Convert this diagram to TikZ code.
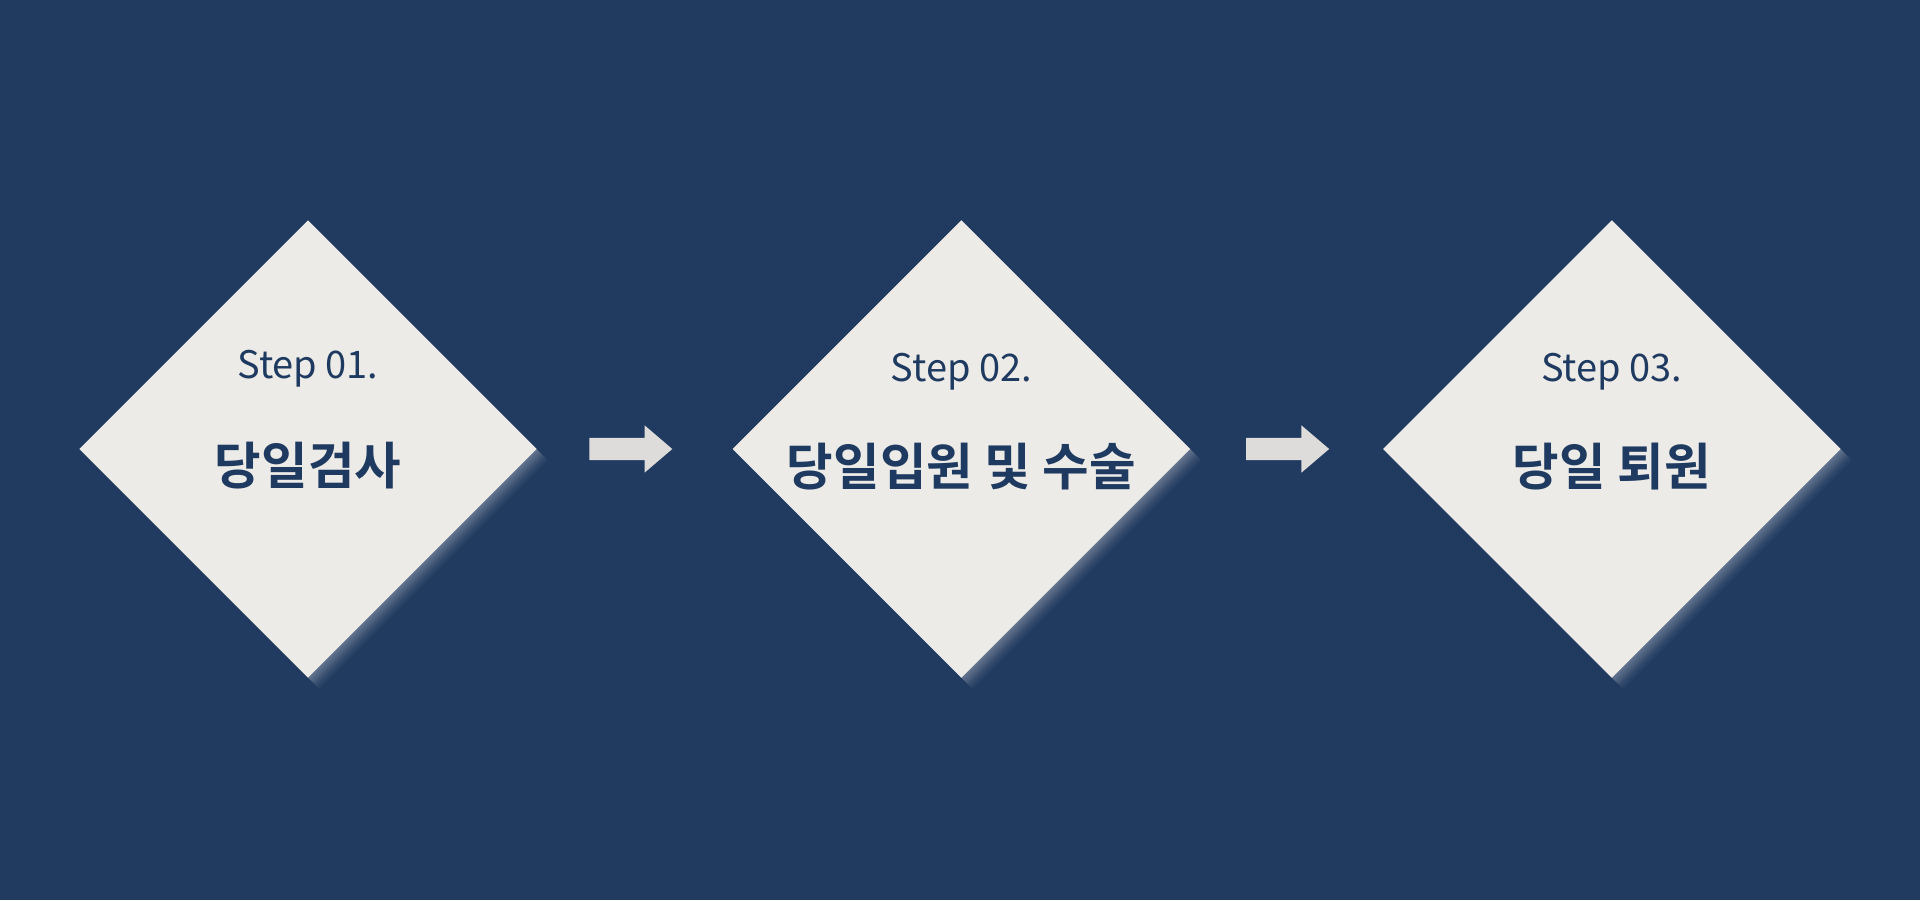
\documentclass[tikz,border=0pt]{standalone}
\usepackage{fontspec}
\setmainfont{Noto Sans CJK KR}[BoldFont={Noto Sans CJK KR Bold}]
\usepackage{tikz}
\usetikzlibrary{shapes,shadows,positioning,calc}

\definecolor{navy}{RGB}{33,58,95}
\definecolor{paper}{RGB}{236,235,231}
\definecolor{arrowgray}{RGB}{221,220,218}
\definecolor{ink}{RGB}{31,58,96}

\begin{document}
\begin{tikzpicture}[node distance=1.94cm, every node/.style={text=ink}]
        \tikzstyle{stepbox} = [diamond, aspect=1, fill=paper, inner sep=0pt,
            minimum width=4.58cm, minimum height=4.58cm,
            general shadow={fill=white, opacity=0.05, shadow xshift=0.4pt, shadow yshift=-0.4pt},
            general shadow={fill=white, opacity=0.05, shadow xshift=0.8pt, shadow yshift=-0.8pt},
            general shadow={fill=white, opacity=0.05, shadow xshift=1.2pt, shadow yshift=-1.2pt},
            general shadow={fill=white, opacity=0.05, shadow xshift=1.6pt, shadow yshift=-1.6pt},
            general shadow={fill=white, opacity=0.04, shadow xshift=2.0pt, shadow yshift=-2.0pt},
            general shadow={fill=white, opacity=0.04, shadow xshift=2.4pt, shadow yshift=-2.4pt},
            general shadow={fill=white, opacity=0.03, shadow xshift=2.8pt, shadow yshift=-2.8pt},
            general shadow={fill=white, opacity=0.03, shadow xshift=3.2pt, shadow yshift=-3.2pt}]
        \tikzstyle{steplabel} = [anchor=base, inner sep=0pt, font=\fontsize{10.8}{13}\selectfont]
        \tikzstyle{title} = [anchor=base, inner sep=0pt, font=\fontsize{14.4}{17}\selectfont\bfseries]
        \tikzstyle{blockarrow} = [single arrow, fill=arrowgray, inner xsep=0pt, inner ysep=0.105cm,
            minimum height=0.83cm,
            single arrow head extend=0.125cm, single arrow head indent=0pt,
            single arrow tip angle=81]

        \fill[navy] (0,0) rectangle (19.2,9);
        \useasboundingbox (0,0) rectangle (19.2,9);

        \node (step1) [stepbox] at (3.08,4.51) {};
        \node (step2) [stepbox, right=of step1] {};
        \node (step3) [stepbox, right=1.91cm of step2] {};

        \node (num1) [steplabel] at ([yshift=0.71cm]step1.center) {Step 01.};
        \node (num2) [steplabel] at ([yshift=0.68cm]step2.center) {Step 02.};
        \node (num3) [steplabel] at ([yshift=0.68cm]step3.center) {Step 03.};

        \node (name1) [title] at ([yshift=-0.35cm]step1.center) {당일검사};
        \node (name2) [title] at ([yshift=-0.36cm]step2.center) {당일입원 및 수술};
        \node (name3) [title] at ([yshift=-0.36cm]step3.center) {당일 퇴원};

        \node (go1) [blockarrow] at ($(step1.east)!0.446!(step2.west)$) {};
        \node (go2) [blockarrow] at ($(step2.east)!0.471!(step3.west)$) {};
    \end{tikzpicture}
\end{document}
